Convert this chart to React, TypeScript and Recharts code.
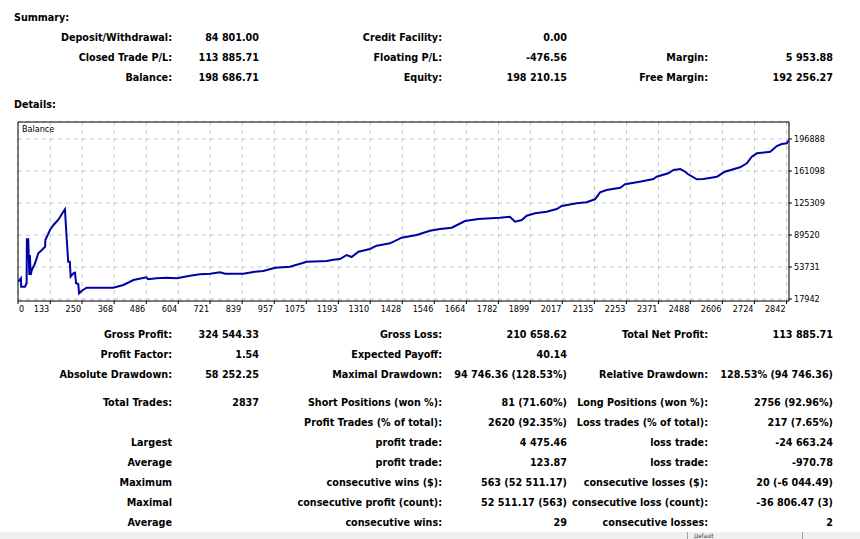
import React from "react";
import { LineChart, Line, XAxis, YAxis, CartesianGrid, ReferenceArea } from "recharts";

// ---- chart data ----
const tradeIndex = [15,25,26,40,46,47,52,56,58,61,65,77,89,102,114,115,132,145,162,181,187,193,199,205,208,218,224,228,236,239,249,267,365,402,439,487,493,524,561,599,647,684,721,758,776,843,886,917,960,1015,1077,1150,1174,1199,1224,1242,1267,1309,1334,1383,1426,1481,1530,1567,1610,1659,1708,1787,1824,1843,1868,1886,1917,1959,1996,2015,2070,2106,2137,2156,2180,2230,2248,2302,2352,2364,2407,2426,2451,2469,2480,2512,2536,2586,2615,2671,2696,2714,2733,2782,2806,2824,2843,2851];
const balance = [37290,41093,31698,31698,35500,84710,84710,44784,67152,44784,50376,57870,69053,72744,76434,83927,95112,100704,106296,115577,118260,87618,59658,59658,42882,46684,47355,35500,34718,24317,27225,30580,30580,33600,39192,42212,39975,41093,41764,41093,43941,45566,46237,47808,46237,46237,48475,49257,52948,54066,59658,60441,61895,62678,67152,64915,70842,73862,77553,80237,86500,89520,94329,96230,97683,105177,107414,108868,109986,104394,106296,111105,113790,115579,118598,121953,124973,126092,129447,137276,139848,142420,146223,149130,152150,154722,158525,162216,163334,160314,157406,151814,152150,154722,160314,165235,169709,177091,180893,182683,189058,191294,192077,195768];
const xTickLabels = [0,133,250,368,486,604,721,839,957,1075,1193,1310,1428,1546,1664,1782,1899,2017,2135,2253,2371,2488,2606,2724,2842];
const yTickLabels = [17942,53731,89520,125309,161098,196888];
const X_MIN = 14.3;
const X_MAX = 2851;
const Y_MIN = 15705;
const Y_MAX = 215899;

// ---- text data ----
const summaryRows = [
  ["Deposit/Withdrawal:", "84 801.00", "Credit Facility:", "0.00", "", ""],
  ["Closed Trade P/L:", "113 885.71", "Floating P/L:", "-476.56", "Margin:", "5 953.88"],
  ["Balance:", "198 686.71", "Equity:", "198 210.15", "Free Margin:", "192 256.27"],
];
const detailRows = [
  ["Gross Profit:", "324 544.33", "Gross Loss:", "210 658.62", "Total Net Profit:", "113 885.71"],
  ["Profit Factor:", "1.54", "Expected Payoff:", "40.14", "", ""],
  ["Absolute Drawdown:", "58 252.25", "Maximal Drawdown:", "94 746.36 (128.53%)", "Relative Drawdown:", "128.53% (94 746.36)"],
  ["Total Trades:", "2837", "Short Positions (won %):", "81 (71.60%)", "Long Positions (won %):", "2756 (92.96%)"],
  ["", "", "Profit Trades (% of total):", "2620 (92.35%)", "Loss trades (% of total):", "217 (7.65%)"],
  ["Largest", "", "profit trade:", "4 475.46", "loss trade:", "-24 663.24"],
  ["Average", "", "profit trade:", "123.87", "loss trade:", "-970.78"],
  ["Maximum", "", "consecutive wins ($):", "563 (52 511.17)", "consecutive losses ($):", "20 (-6 044.49)"],
  ["Maximal", "", "consecutive profit (count):", "52 511.17 (563)", "consecutive loss (count):", "-36 806.47 (3)"],
  ["Average", "", "consecutive wins:", "29", "consecutive losses:", "2"],
];

const chartData = tradeIndex.map((t, i) => ({ t, v: balance[i] }));
const xTickPositions = xTickLabels.map((v) => Math.max(v, X_MIN));

const colEdges = [172, 259, 442, 567, 708, 833];
const W = 860;
const textFont = '"DejaVu Sans Condensed", "DejaVu Sans", sans-serif';
const FS = 10.7;

function Cell({ text, edge, y }: { text: string; edge: number; y: number }) {
  if (!text) return null;
  return (
    <div
      style={{
        position: "absolute",
        right: W - edge,
        top: y - 6.5,
        height: 14,
        lineHeight: "14px",
        whiteSpace: "nowrap",
        fontWeight: "bold",
        fontSize: FS,
        fontFamily: textFont,
        color: "#000",
      }}
    >
      {text}
    </div>
  );
}

const XTick = (props: any) => {
  const { x, y, index } = props;
  const label = String(xTickLabels[index]);
  const first = index === 0;
  return (
    <text
      x={first ? x + 1 : x - 1}
      y={y + 6}
      textAnchor={first ? "start" : "end"}
      fontSize={9}
      fontFamily={textFont}
      fill="#000"
    >
      {label}
    </text>
  );
};

const YTick = (props: any) => {
  const { x, y, payload } = props;
  return (
    <text x={x} y={y + 3.5} textAnchor="start" fontSize={9} fontFamily={textFont} fill="#000">
      {payload.value}
    </text>
  );
};

export default function App() {
  return (
    <div style={{ position: "absolute", left: 0, top: 0, width: 860, height: 539, background: "#fff", overflow: "hidden" }}>
      <div style={{ position: "absolute", left: 14, top: 10.5, fontWeight: "bold", fontSize: FS, fontFamily: textFont, lineHeight: "14px" }}>
        Summary:
      </div>
      {summaryRows.map((row, r) =>
        row.map((txt, c) => <Cell key={`s${r}-${c}`} text={txt} edge={colEdges[c]} y={37 + 20 * r} />)
      )}
      <div style={{ position: "absolute", left: 14, top: 97.5, fontWeight: "bold", fontSize: FS, fontFamily: textFont, lineHeight: "14px" }}>
        Details:
      </div>

      <div style={{ position: "absolute", left: 0, top: 0 }}>
        <LineChart
          width={860}
          height={330}
          data={chartData}
          margin={{ top: 122, left: 18, right: 11, bottom: 9 }}
        >
          <CartesianGrid stroke="#c8c8c8" strokeDasharray="4 4" />
          <XAxis
            dataKey="t"
            type="number"
            domain={[X_MIN, X_MAX]}
            ticks={xTickPositions}
            interval={0}
            allowDataOverflow
            height={20}
            tickSize={3}
            tickMargin={2}
            axisLine={false}
            tickLine={{ stroke: "#000" }}
            tick={<XTick />}
          />
          <YAxis
            orientation="right"
            type="number"
            domain={[Y_MIN, Y_MAX]}
            ticks={yTickLabels}
            interval={0}
            allowDataOverflow
            width={60}
            tickSize={3}
            tickMargin={2}
            axisLine={false}
            tickLine={{ stroke: "#000" }}
            tick={<YTick />}
          />
          <ReferenceArea x1={X_MIN} x2={X_MAX} y1={Y_MIN} y2={Y_MAX} fill="none" stroke="#000" strokeWidth={1} fillOpacity={0} />
          <Line
            type="linear"
            dataKey="v"
            stroke="#0000a8"
            strokeWidth={2}
            dot={false}
            isAnimationActive={false}
          />
        </LineChart>
      </div>
      <div style={{ position: "absolute", left: 22, top: 124, fontSize: 9, fontFamily: textFont, lineHeight: "11px", color: "#000" }}>
        Balance
      </div>

      {detailRows.map((row, r) =>
        row.map((txt, c) => (
          <Cell key={`d${r}-${c}`} text={txt} edge={colEdges[c]} y={334 + 20 * r + (r >= 3 ? 8 : 0)} />
        ))
      )}

      <div style={{ position: "absolute", left: 0, top: 532, width: 860, height: 7, background: "#f0f0f0" }}>
        <div style={{ position: "absolute", left: 687, top: 0, width: 1, height: 7, background: "#a0a0a0" }} />
        <div style={{ position: "absolute", left: 802, top: 0, width: 1, height: 7, background: "#a0a0a0" }} />
        <div style={{ position: "absolute", left: 694, top: 0, fontSize: 6, fontFamily: textFont, lineHeight: "7px", color: "#333" }}>
          Default
        </div>
      </div>
    </div>
  );
}
